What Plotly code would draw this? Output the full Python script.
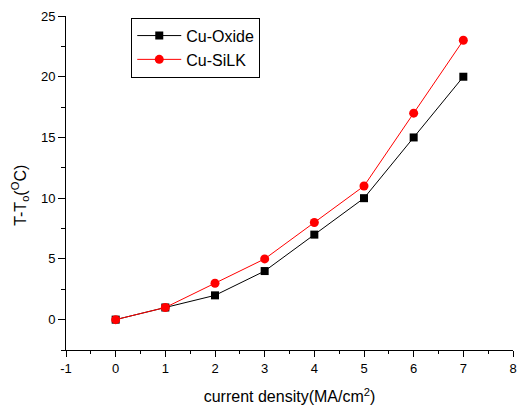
import plotly.graph_objects as go

current_density = [0, 1, 2, 3, 4, 5, 6, 7]
cu_oxide = [0, 1, 2, 4, 7, 10, 15, 20]
cu_silk = [0, 1, 3, 5, 8, 11, 17, 23]

x_tick_vals = [-1, 0, 1, 2, 3, 4, 5, 6, 7, 8]
x_tick_text = ["-1", "0", "1", "2", "3", "4", "5", "6", "7", "8"]

FONT = "Arial, Liberation Sans, sans-serif"

fig = go.Figure()
fig.add_trace(go.Scatter(
    x=current_density, y=cu_oxide, mode="lines+markers", name="Cu-Oxide",
    line=dict(color="black", width=1),
    marker=dict(symbol="square", size=8, color="black"),
))
fig.add_trace(go.Scatter(
    x=current_density, y=cu_silk, mode="lines+markers", name="Cu-SiLK",
    line=dict(color="red", width=1),
    marker=dict(symbol="circle", size=9, color="red"),
))

fig.update_layout(
    width=526, height=412,
    margin=dict(l=66, r=9, t=15, b=62),
    paper_bgcolor="white", plot_bgcolor="white",
    font=dict(family=FONT, size=13, color="black"),
    legend=dict(
        x=0.146, y=0.995, xanchor="left", yanchor="top",
        bordercolor="black", borderwidth=1, bgcolor="white",
        font=dict(size=16), tracegroupgap=0, itemwidth=44,
    ),
    xaxis=dict(
        range=[-1, 8], tickvals=x_tick_vals, ticktext=x_tick_text,
        showgrid=False, zeroline=False,
        showline=True, linecolor="black", linewidth=1,
        ticks="outside", ticklen=6, tickcolor="black",
        minor=dict(dtick=0.5, tick0=0, ticks="outside", ticklen=3, tickcolor="black"),
        title=dict(text="current density(MA/cm<sup>2</sup>)", font=dict(size=16), standoff=16),
    ),
    yaxis=dict(
        range=[-2.5, 25], dtick=5, tick0=0,
        showgrid=False, zeroline=False,
        showline=True, linecolor="black", linewidth=1,
        ticks="outside", ticklen=7, tickcolor="black",
        minor=dict(dtick=2.5, ticks="outside", ticklen=4, tickcolor="black"),
    ),
    annotations=[dict(
        text="T-T<sub>o</sub>(<sup>O</sup>C)", textangle=-90,
        xref="paper", yref="paper", x=-46 / 451, y=(350 - 195) / 335,
        xanchor="center", yanchor="middle", showarrow=False,
        font=dict(size=16),
    )],
)

fig.write_html("out.html")
